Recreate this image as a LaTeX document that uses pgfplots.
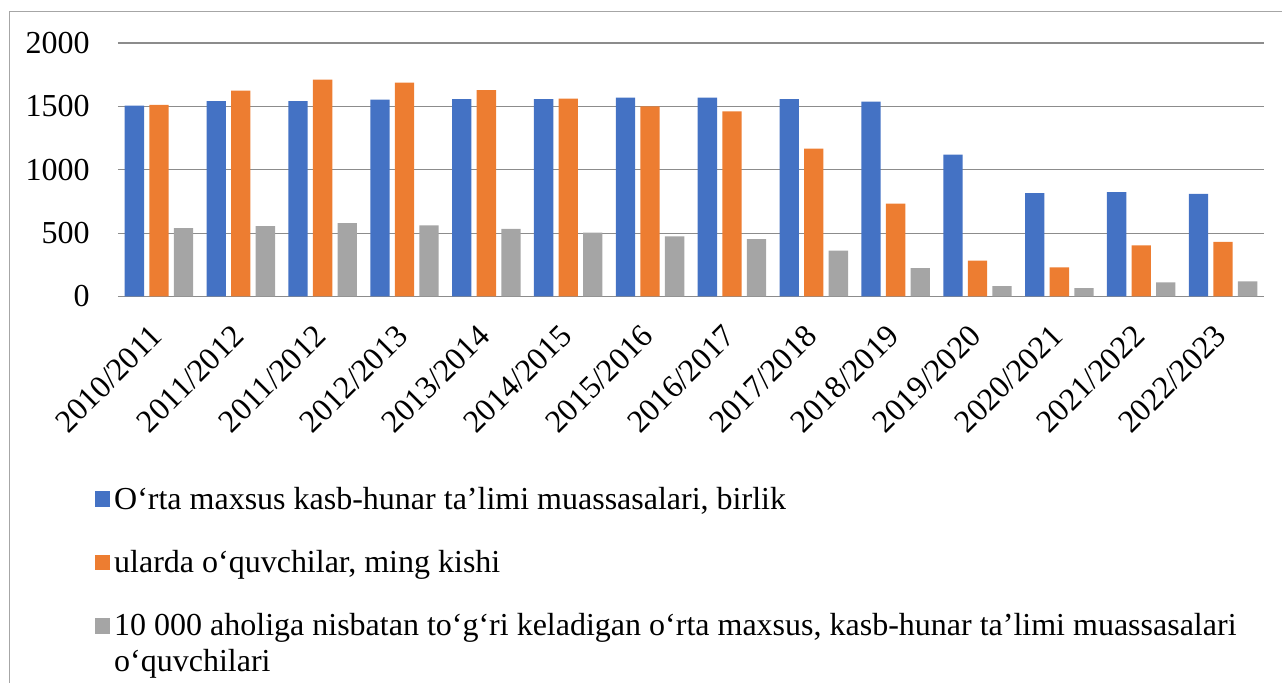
\documentclass[border=0pt]{standalone}
\usepackage{fontspec}
\setmainfont{Liberation Serif}
\usepackage{pgfplots}
\pgfplotsset{compat=1.18}
\definecolor{cblue}{HTML}{4472C4}
\definecolor{corange}{HTML}{ED7D31}
\definecolor{cgray}{HTML}{A5A5A5}
\pgfplotsset{sqlegend/.style={legend image code/.code={\fill[##1] (0pt,1pt) rectangle (7.6pt,8.8pt);}}}
\begin{document}
\fontsize{16}{18}\selectfont
\begin{tikzpicture}
\useasboundingbox (0,0) rectangle (641pt,341.5pt);
\draw[black!35, line width=0.5pt] (4.5pt,0) -- (4.5pt,335.5pt) -- (641pt,335.5pt);
\begin{axis}[
 at={(59pt,193.25pt)}, anchor=south west,
 scale only axis, width=573pt, height=126.75pt,
 ymin=0, ymax=2000, ytick={0,500,1000,1500,2000},
 xmin=-0.5, xmax=13.5, xtick={0,...,13},
 xticklabels={2010/2011,2011/2012,2011/2012,2012/2013,2013/2014,2014/2015,2015/2016,2016/2017,2017/2018,2018/2019,2019/2020,2020/2021,2021/2022,2022/2023},
 ymajorgrids, grid style={black!45, line width=0.6pt},
 axis line style={draw=none}, major tick length=0pt,
 ybar, bar width=0.236,
 ticklabel style={font=\fontsize{16}{18}\selectfont},
 /pgf/number format/assume math mode=true,
 /pgf/number format/1000 sep={},
 yticklabel style={inner sep=0pt, xshift=-14pt},
 xticklabel style={rotate=45, anchor=north east, inner sep=0pt, xshift=-12.7pt, yshift=-5.7pt},
 legend style={at={(axis description cs:-0.0201,-0.728)}, anchor=north west,
   draw=none, fill=none, inner sep=0pt, outer sep=0pt, row sep=13.33pt,
   font=\fontsize{16}{18}\selectfont,
   cells={anchor=base west, text height=12pt, text depth=4pt, inner ysep=0pt, inner xsep=3.5pt}},
]
\addplot[fill=cblue, draw=none, bar shift=-0.3, sqlegend] coordinates {
 (0,1505) (1,1542) (2,1542) (3,1553) (4,1558) (5,1558) (6,1569) (7,1569) (8,1558) (9,1537) (10,1119) (11,816) (12,823) (13,809)};
\addlegendentry{O‘rta maxsus kasb-hunar ta’limi muassasalari, birlik}
\addplot[fill=corange, draw=none, bar shift=0, sqlegend] coordinates {
 (0,1511) (1,1624) (2,1711) (3,1687) (4,1629) (5,1561) (6,1500) (7,1461) (8,1166) (9,732) (10,282) (11,229) (12,403) (13,430)};
\addlegendentry{ularda o‘quvchilar, ming kishi}
\addplot[fill=cgray, draw=none, bar shift=0.3, sqlegend] coordinates {
 (0,540) (1,555) (2,579) (3,561) (4,534) (5,503) (6,474) (7,453) (8,361) (9,224) (10,82) (11,66) (12,111) (13,119)};
\addlegendentry{\begin{tabular}[t]{@{}l@{}}10 000 aholiga nisbatan to‘g‘ri keladigan o‘rta maxsus, kasb-hunar ta’limi muassasalari\\o‘quvchilari\end{tabular}}
\end{axis}
\end{tikzpicture}
\end{document}
